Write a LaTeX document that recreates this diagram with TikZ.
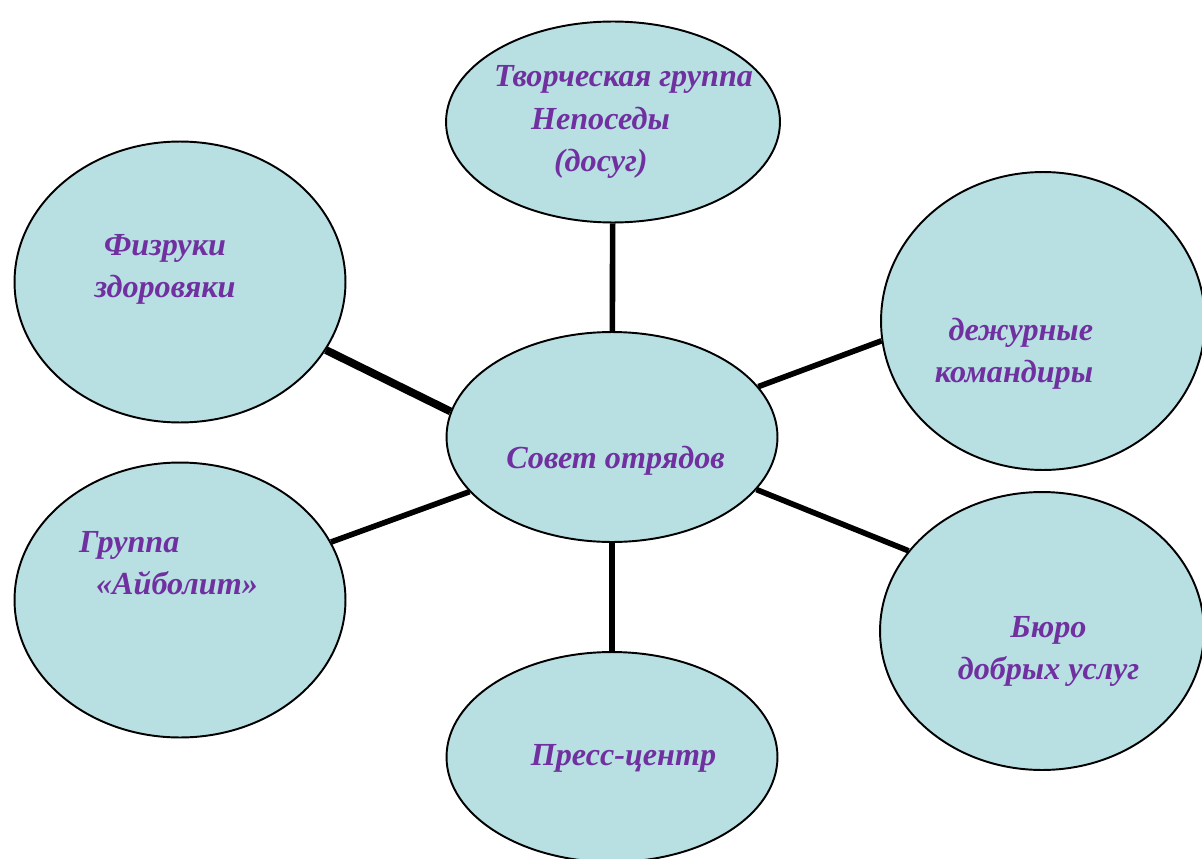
\documentclass[tikz,border=0pt]{standalone}
\usepackage{fontspec}
\setmainfont{Liberation Serif}
\usepackage{tikz}
\usetikzlibrary{shapes.geometric,%
		calc}

\definecolor{azzurro}{RGB}{184,223,226}
\definecolor{viola}{RGB}{112,48,160}

\tikzset{grp/.style={ellipse,draw=black,line width=1.1pt,fill=azzurro,inner sep=0pt},
	scritta/.style={text=viola,font=\fontsize{18.3}{24}\selectfont\bfseries\itshape},
	lato/.style={line width=3.2pt,line cap=butt}}

\begin{document}
\begin{tikzpicture}[x=0.02cm,y=-0.02cm]
\useasboundingbox (0,0) rectangle (1202,858);
%centro
\node[grp,minimum width=6.62cm,minimum height=4.2cm,
	label={[scritta,xshift=0.07cm,yshift=-0.48cm]center:Совет отрядов}] (S) at (612,437) {};
%gruppi
\node[grp,minimum width=6.68cm,minimum height=4.02cm,
	label={[scritta,align=left,xshift=0.21cm,yshift=0cm]center:{Творческая группа\\\hspace*{0.74cm}Непоседы\\\hspace*{1.2cm}(досуг)}}] (T) at (613,122) {};
\node[grp,minimum width=6.62cm,minimum height=5.62cm,
	label={[scritta,align=center,xshift=-0.3cm,yshift=0.26cm]center:{Физруки\\здоровяки}}] (F) at (180,282) {};
\node[grp,minimum width=6.62cm,minimum height=5.5cm,
	label={[scritta,align=left,xshift=-0.23cm,yshift=0.74cm]center:{Группа\\\hspace*{0.34cm}«Айболит»}}] (A) at (180,600) {};
\node[grp,minimum width=6.48cm,minimum height=5.96cm,
	label={[scritta,align=right,xshift=-0.58cm,yshift=-0.66cm]center:{дежурные\\командиры}}] (D) at (1043,321) {};
\node[grp,minimum width=6.48cm,minimum height=5.56cm,
	label={[scritta,align=center,xshift=0.13cm,yshift=-0.41cm]center:{Бюро\\добрых услуг}}] (B) at (1042,631) {};
\node[grp,minimum width=6.62cm,minimum height=4.2cm,
	label={[scritta,xshift=0.23cm,yshift=-0.02cm]center:Пресс-центр}] (P) at (612,757) {};
%collegamenti
\draw[lato] (T) -- (S);
\draw[lato] (S) -- (P);
\draw[lato,line width=4.5pt] (F.-25.8) -- (S.171.6);
\draw[lato] (S.19.7) -- (D.-173.3);
\draw[lato] (A.21.1) -- (S.-159.4);
\draw[lato] (S.-20.6) -- (B.149);
\end{tikzpicture}
\end{document}
